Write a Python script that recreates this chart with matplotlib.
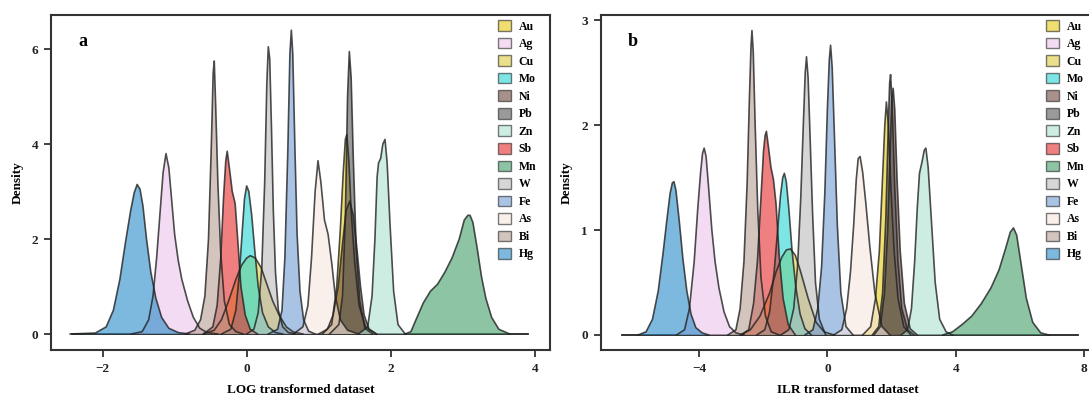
import matplotlib
matplotlib.use("Agg")
import matplotlib.pyplot as plt
from matplotlib.patches import Patch

plt.rcParams["font.family"] = ["Liberation Serif", "DejaVu Serif"]
plt.rcParams["font.weight"] = "bold"

# ── data: density curves ─────────────────────────────────────────────
ELEMENTS = ["Au", "Ag", "Cu", "Mo", "Ni", "Pb", "Zn", "Sb", "Mn", "W", "Fe", "As", "Bi", "Hg"]
COLORS = ["#E6CB11", "#EBC6EB", "#DCCB3C", "#28D5D5", "#6E483F", "#575757", "#ACE1CF",
          "#E62B2B", "#3F9D67", "#BBBBBB", "#709BD5", "#F7E6DF", "#B79D93", "#2689C8"]

LOG_X = {
    "Au": [1.05, 1.18, 1.25, 1.3, 1.34, 1.37, 1.39, 1.42, 1.45, 1.5, 1.56, 1.65, 1.8],
    "Ag": [-1.6, -1.45, -1.36, -1.3, -1.25, -1.2, -1.16, -1.12, -1.08, -1.04, -1.0, -0.95, -0.9, -0.82, -0.74, -0.65, -0.55, -0.4],
    "Cu": [-0.6, -0.45, -0.35, -0.25, -0.15, -0.07, 0.0, 0.05, 0.12, 0.2, 0.28, 0.36, 0.45, 0.55, 0.65, 0.78],
    "Mo": [-0.35, -0.22, -0.15, -0.1, -0.06, -0.03, 0.0, 0.03, 0.07, 0.11, 0.16, 0.22, 0.3, 0.4, 0.5],
    "Ni": [1.0, 1.12, 1.2, 1.27, 1.33, 1.38, 1.43, 1.48, 1.53, 1.58, 1.63, 1.7, 1.8],
    "Pb": [1.15, 1.28, 1.33, 1.37, 1.4, 1.425, 1.45, 1.48, 1.52, 1.57, 1.64, 1.75],
    "Zn": [1.55, 1.68, 1.74, 1.78, 1.81, 1.83, 1.86, 1.89, 1.92, 1.95, 1.99, 2.04, 2.1, 2.2],
    "Sb": [-0.6, -0.47, -0.41, -0.36, -0.32, -0.29, -0.27, -0.24, -0.2, -0.16, -0.12, -0.08, -0.02, 0.05, 0.15],
    "Mn": [2.2, 2.28, 2.35, 2.45, 2.55, 2.65, 2.75, 2.85, 2.95, 3.02, 3.07, 3.1, 3.14, 3.2, 3.26, 3.32, 3.4, 3.5, 3.65],
    "W":  [0.0, 0.1, 0.16, 0.21, 0.25, 0.28, 0.3, 0.32, 0.345, 0.37, 0.4, 0.44, 0.5, 0.58, 0.68],
    "Fe": [0.3, 0.43, 0.49, 0.53, 0.57, 0.6, 0.62, 0.64, 0.67, 0.7, 0.74, 0.79, 0.86, 0.95],
    "As": [0.65, 0.78, 0.85, 0.9, 0.95, 0.99, 1.03, 1.08, 1.13, 1.18, 1.23, 1.3, 1.4, 1.55],
    "Bi": [-0.85, -0.72, -0.64, -0.58, -0.53, -0.49, -0.465, -0.45, -0.43, -0.4, -0.36, -0.31, -0.24, -0.15, -0.05],
    "Hg": [-2.45, -2.1, -1.95, -1.85, -1.76, -1.68, -1.61, -1.56, -1.52, -1.48, -1.44, -1.39, -1.33, -1.26, -1.18, -1.08, -0.95, -0.8],
}
LOG_Y = {
    "Au": [0, 0.2, 1.0, 2.2, 3.4, 4.1, 4.2, 3.6, 2.6, 1.5, 0.6, 0.15, 0],
    "Ag": [0, 0.05, 0.3, 0.8, 1.6, 2.6, 3.4, 3.8, 3.5, 2.8, 2.1, 1.55, 1.15, 0.7, 0.35, 0.12, 0.03, 0],
    "Cu": [0, 0.08, 0.3, 0.7, 1.15, 1.45, 1.6, 1.65, 1.6, 1.4, 1.05, 0.7, 0.4, 0.15, 0.04, 0],
    "Mo": [0, 0.1, 0.5, 1.3, 2.2, 2.85, 3.12, 3.0, 2.5, 1.8, 1.0, 0.45, 0.15, 0.03, 0],
    "Ni": [0, 0.1, 0.4, 1.0, 1.9, 2.6, 2.8, 2.5, 1.8, 1.0, 0.4, 0.1, 0],
    "Pb": [0, 0.2, 0.8, 2.5, 5.0, 5.95, 5.4, 3.7, 1.8, 0.7, 0.12, 0],
    "Zn": [0, 0.15, 0.8, 2.0, 3.3, 3.6, 3.7, 4.0, 4.1, 3.6, 2.3, 0.9, 0.2, 0],
    "Sb": [0, 0.15, 0.6, 1.6, 2.9, 3.65, 3.85, 3.5, 3.0, 2.75, 1.9, 1.0, 0.4, 0.1, 0],
    "Mn": [0, 0.05, 0.3, 0.65, 0.9, 1.05, 1.3, 1.6, 2.0, 2.4, 2.5, 2.5, 2.35, 1.8, 1.2, 0.75, 0.35, 0.1, 0],
    "W":  [0, 0.1, 0.45, 1.4, 3.2, 5.3, 6.05, 5.8, 4.3, 2.6, 1.3, 0.5, 0.15, 0.03, 0],
    "Fe": [0, 0.1, 0.5, 1.6, 3.8, 5.9, 6.4, 5.9, 3.9, 2.1, 0.9, 0.3, 0.06, 0],
    "As": [0, 0.15, 0.6, 1.6, 3.0, 3.65, 3.2, 2.4, 2.1, 1.5, 0.8, 0.3, 0.08, 0],
    "Bi": [0, 0.08, 0.3, 0.8, 2.0, 4.0, 5.5, 5.75, 4.8, 3.2, 1.7, 0.7, 0.2, 0.05, 0],
    "Hg": [0, 0.02, 0.15, 0.5, 1.15, 1.95, 2.6, 2.98, 3.15, 3.05, 2.7, 2.0, 1.3, 0.75, 0.35, 0.12, 0.03, 0],
}

ILR_X = {
    "Au": [1.1, 1.35, 1.5, 1.62, 1.72, 1.79, 1.84, 1.9, 1.98, 2.08, 2.2, 2.38, 2.6],
    "Ag": [-4.7, -4.45, -4.3, -4.15, -4.04, -3.95, -3.89, -3.84, -3.78, -3.7, -3.6, -3.5, -3.38, -3.22, -3.05, -2.85, -2.6],
    "Cu": [-2.7, -2.4, -2.1, -1.8, -1.6, -1.42, -1.28, -1.15, -1.0, -0.85, -0.6, -0.35, -0.1, 0.2],
    "Mo": [-2.2, -1.95, -1.8, -1.66, -1.55, -1.46, -1.39, -1.34, -1.28, -1.2, -1.1, -0.98, -0.85, -0.7, -0.5],
    "Ni": [1.45, 1.65, 1.78, 1.88, 1.96, 2.01, 2.05, 2.1, 2.17, 2.27, 2.4, 2.58, 2.8],
    "Pb": [1.4, 1.6, 1.72, 1.82, 1.89, 1.94, 1.97, 2.02, 2.1, 2.2, 2.32, 2.5, 2.7],
    "Zn": [2.3, 2.5, 2.62, 2.72, 2.8, 2.87, 2.95, 3.02, 3.07, 3.14, 3.24, 3.36, 3.5, 3.7, 3.9],
    "Sb": [-2.7, -2.45, -2.3, -2.18, -2.08, -1.99, -1.94, -1.9, -1.84, -1.76, -1.68, -1.6, -1.5, -1.38, -1.22, -1.0],
    "Mn": [3.6, 3.9, 4.2, 4.5, 4.8, 5.1, 5.35, 5.55, 5.7, 5.8, 5.9, 6.05, 6.2, 6.4, 6.65, 6.9],
    "W":  [-1.45, -1.2, -1.05, -0.93, -0.83, -0.75, -0.69, -0.65, -0.6, -0.54, -0.46, -0.37, -0.25, -0.05],
    "Fe": [-0.7, -0.45, -0.3, -0.18, -0.08, 0.0, 0.06, 0.1, 0.15, 0.22, 0.31, 0.42, 0.58, 0.8],
    "As": [0.2, 0.45, 0.6, 0.72, 0.82, 0.9, 0.96, 1.02, 1.1, 1.2, 1.32, 1.48, 1.7, 1.95],
    "Bi": [-3.1, -2.85, -2.72, -2.6, -2.5, -2.43, -2.38, -2.35, -2.31, -2.25, -2.17, -2.07, -1.93, -1.75, -1.5],
    "Hg": [-5.9, -5.65, -5.45, -5.27, -5.12, -5.0, -4.9, -4.83, -4.78, -4.72, -4.62, -4.5, -4.38, -4.25, -4.1, -3.9, -3.7],
}
ILR_Y = {
    "Au": [0, 0.08, 0.35, 0.8, 1.5, 2.0, 2.22, 2.0, 1.4, 0.8, 0.35, 0.08, 0],
    "Ag": [0, 0.05, 0.25, 0.7, 1.2, 1.55, 1.73, 1.78, 1.7, 1.4, 1.0, 0.7, 0.45, 0.22, 0.08, 0.02, 0],
    "Cu": [0, 0.05, 0.18, 0.4, 0.6, 0.74, 0.81, 0.82, 0.76, 0.62, 0.35, 0.12, 0.03, 0],
    "Mo": [0, 0.05, 0.22, 0.6, 1.0, 1.33, 1.5, 1.54, 1.46, 1.2, 0.8, 0.45, 0.2, 0.06, 0],
    "Ni": [0, 0.08, 0.4, 1.0, 1.8, 2.25, 2.35, 2.15, 1.5, 0.8, 0.3, 0.06, 0],
    "Pb": [0, 0.08, 0.4, 1.1, 1.9, 2.4, 2.48, 2.2, 1.4, 0.7, 0.25, 0.05, 0],
    "Zn": [0, 0.05, 0.25, 0.7, 1.2, 1.54, 1.65, 1.76, 1.78, 1.6, 1.1, 0.5, 0.15, 0.03, 0],
    "Sb": [0, 0.05, 0.3, 0.7, 1.25, 1.75, 1.9, 1.94, 1.8, 1.6, 1.48, 1.25, 0.75, 0.35, 0.1, 0],
    "Mn": [0, 0.03, 0.1, 0.18, 0.3, 0.45, 0.62, 0.82, 0.98, 1.02, 0.95, 0.65, 0.35, 0.12, 0.02, 0],
    "W":  [0, 0.05, 0.25, 0.65, 1.3, 2.0, 2.5, 2.65, 2.45, 1.9, 1.15, 0.5, 0.15, 0],
    "Fe": [0, 0.05, 0.25, 0.65, 1.35, 2.15, 2.62, 2.76, 2.55, 1.9, 1.05, 0.4, 0.08, 0],
    "As": [0, 0.05, 0.25, 0.6, 1.05, 1.48, 1.68, 1.7, 1.55, 1.25, 0.85, 0.4, 0.08, 0],
    "Bi": [0, 0.05, 0.25, 0.7, 1.45, 2.25, 2.75, 2.9, 2.7, 2.0, 1.2, 0.55, 0.18, 0.03, 0],
    "Hg": [0, 0.03, 0.15, 0.42, 0.78, 1.1, 1.35, 1.45, 1.46, 1.38, 1.1, 0.72, 0.42, 0.2, 0.07, 0.02, 0],
}

LOG_RANGE = [-2.43, 3.9]
ILR_RANGE = [-6.4, 7.8]

# ── figure ───────────────────────────────────────────────────────────
W, H = 1089, 398
fig = plt.figure(figsize=(W / 100, H / 100), dpi=100)
fig.patch.set_facecolor("white")

ax_a = fig.add_axes([50.7 / W, 48 / H, 499.3 / W, 335 / H])
ax_b = fig.add_axes([600.5 / W, 48 / H, 494.5 / W, 335 / H])

ALPHA = 0.6
EDGE = "#222222"


def draw_panel(ax, xs, ys, xrange, letter, xlabel, xlim, ylim, xticks, yticks, leg_x):
    ax.plot(xrange, [0, 0], color=EDGE, lw=1.3, zorder=1)
    for el, col in zip(ELEMENTS, COLORS):
        ax.fill_between(xs[el], ys[el], 0, facecolor=col, alpha=ALPHA, lw=0, zorder=2)
        ax.plot(xs[el], ys[el], color=EDGE, lw=1.2, alpha=0.8, zorder=3,
                solid_joinstyle="round")
    ax.set_xlim(*xlim)
    ax.set_ylim(*ylim)
    ax.set_xticks(xticks)
    ax.set_yticks(yticks)
    for sp in ax.spines.values():
        sp.set_linewidth(1.5)
        sp.set_color("#333333")
    ax.tick_params(direction="out", length=5, width=1.3, colors="#333333",
                   labelsize=9.5, labelcolor="#222222", pad=4)
    ax.set_xlabel(xlabel, fontsize=9.5, fontweight="bold", labelpad=7)
    ax.set_ylabel("Density", fontsize=9.5, fontweight="bold", labelpad=6)
    ax.text(0.065, 0.92, letter, transform=ax.transAxes, fontsize=13,
            fontweight="bold", ha="center", va="center")
    handles = [Patch(facecolor=c, alpha=ALPHA, edgecolor=EDGE, lw=1.0) for c in COLORS]
    ax.legend(handles, ELEMENTS, loc="upper left", bbox_to_anchor=(leg_x, 0.984),
              frameon=False, borderaxespad=0, borderpad=0, fontsize=8.5,
              handlelength=1.1, handleheight=1.0, labelspacing=0.44,
              handletextpad=0.65)


draw_panel(ax_a, LOG_X, LOG_Y, LOG_RANGE, "a", "LOG transformed dataset",
           (-2.72, 4.21), (-0.337, 6.72), [-2, 0, 2, 4], [0, 2, 4, 6], 0.896)
draw_panel(ax_b, ILR_X, ILR_Y, ILR_RANGE, "b", "ILR transformed dataset",
           (-7.07, 8.34), (-0.143, 3.048), [-4, 0, 4, 8], [0, 1, 2, 3], 0.901)

fig.savefig("out.png", dpi=100, facecolor="white")
